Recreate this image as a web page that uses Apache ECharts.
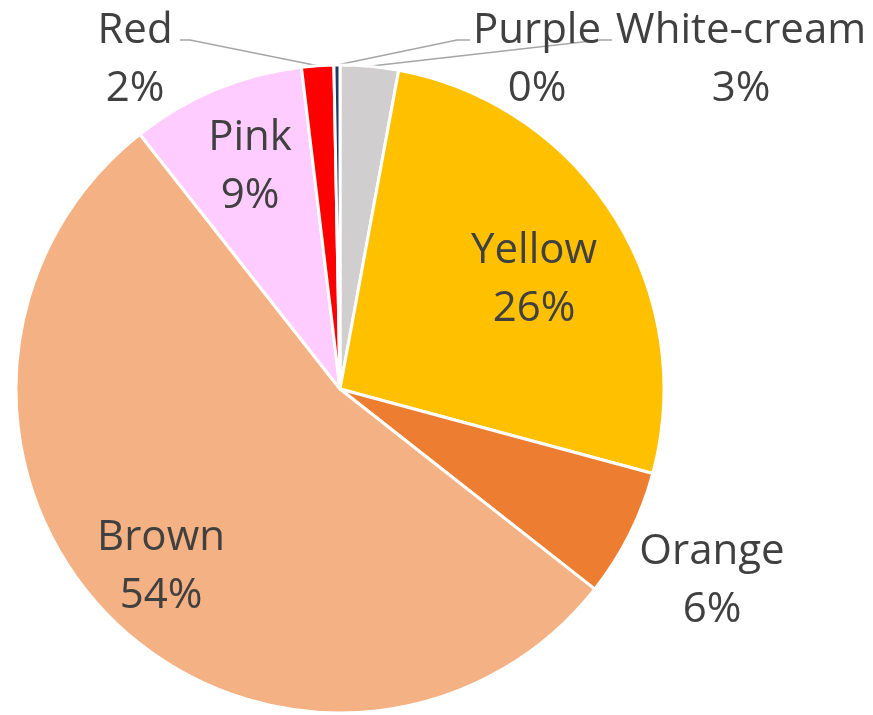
<!DOCTYPE html>
<html>
<head>
<meta charset="utf-8">
<script src="https://cdn.jsdelivr.net/npm/echarts@6/dist/echarts.min.js"></script>
<style>
  html, body { margin: 0; padding: 0; background: #fff; }
  #main { width: 873px; height: 715px; }
</style>
</head>
<body>
<div id="main"></div>
<script>
// 颜色类别（顺时针，从 12 点钟方向开始）
var categories = ["White-cream", "Yellow", "Orange", "Brown", "Pink", "Red", "Purple"];
var shares = [2.9, 26.3, 6.4, 53.8, 8.7, 1.6, 0.3];
var colors = ["#D0CECE", "#FFC000", "#ED7D31", "#F4B183", "#FFCCFF", "#FF0000", "#1F3864"];

// 标签位置（像素），引导线折点
var labelSpots = {
  "White-cream": { pos: [741, 60], line: [[600, 40], [612, 40]] },
  "Yellow": { pos: [534, 280] },
  "Orange": { pos: [712, 581] },
  "Brown": { pos: [161, 567] },
  "Pink": { pos: [250, 167] },
  "Red": { pos: [135, 60], line: [[190, 40], [180, 40]] },
  "Purple": { pos: [537, 60], line: [[457, 40], [470, 40]] }
};

var myChart = echarts.init(document.getElementById("main"), null, { renderer: "canvas" });

var data = categories.map(function (name, i) {
  var spot = labelSpots[name];
  return {
    name: name,
    value: shares[i],
    itemStyle: { color: colors[i] },
    labelLine: { show: !!spot.line }
  };
});

var option = {
  animation: false,
  series: [
    {
      type: "pie",
      center: [340, 389],
      radius: [0, 324],
      startAngle: 90,
      clockwise: true,
      avoidLabelOverlap: false,
      itemStyle: { borderColor: "#ffffff", borderWidth: 3 },
      label: {
        show: true,
        position: "outside",
        fontFamily: "Open Sans",
        fontSize: 42,
        lineHeight: 58,
        color: "#404040",
        formatter: function (p) {
          return p.name + "\n" + Math.round(p.percent) + "%";
        }
      },
      labelLine: {
        lineStyle: { color: "#A6A6A6", width: 1.5 }
      },
      labelLayout: function (params) {
        var spot = labelSpots[categories[params.dataIndex]];
        var res = {
          x: spot.pos[0],
          y: spot.pos[1],
          align: "center",
          verticalAlign: "middle"
        };
        if (spot.line && params.labelLinePoints) {
          res.labelLinePoints = [params.labelLinePoints[0], spot.line[0], spot.line[1]];
        }
        return res;
      },
      emphasis: { disabled: true },
      data: data
    }
  ]
};

myChart.setOption(option);
</script>
</body>
</html>
